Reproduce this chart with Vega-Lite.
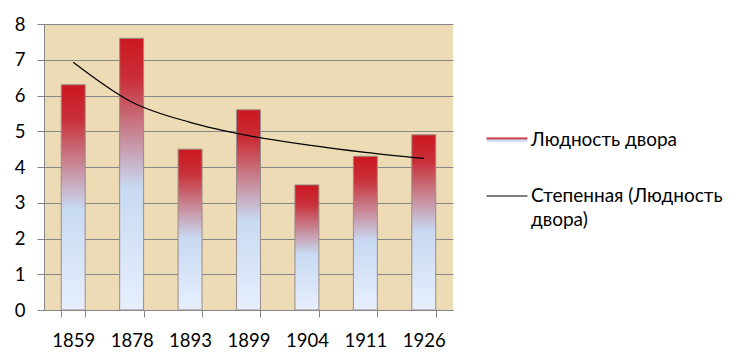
{
  "$schema": "https://vega.github.io/schema/vega-lite/v6.json",
  "width": 409,
  "height": 286,
  "autosize": "none",
  "padding": {"left": 44, "top": 24, "right": 290, "bottom": 54},
  "background": "white",
  "config": {
    "font": "Lato",
    "view": {"fill": "#eddbb5", "stroke": null},
    "axis": {"labelFont": "Lato", "labelFontSize": 18.5, "labelColor": "#000000", "domainColor": "#868686", "tickColor": "#868686", "gridColor": "#868686", "title": null},
    "legend": {"labelFont": "Lato", "labelFontSize": 19, "labelColor": "#000000", "padding": 0, "labelLimit": 400}
  },
  "datasets": {
    "bars": [
      {"year": "1859", "value": 6.3, "series": "Людность двора"},
      {"year": "1878", "value": 7.6, "series": "Людность двора"},
      {"year": "1893", "value": 4.5, "series": "Людность двора"},
      {"year": "1899", "value": 5.6, "series": "Людность двора"},
      {"year": "1904", "value": 3.5, "series": "Людность двора"},
      {"year": "1911", "value": 4.3, "series": "Людность двора"},
      {"year": "1926", "value": 4.9, "series": "Людность двора"}
    ],
    "trend": [
      {"year": "1859", "value": 6.93, "series": "Степенная (Людность двора)"},
      {"year": "1878", "value": 5.82, "series": "Степенная (Людность двора)"},
      {"year": "1893", "value": 5.25, "series": "Степенная (Людность двора)"},
      {"year": "1899", "value": 4.88, "series": "Степенная (Людность двора)"},
      {"year": "1904", "value": 4.62, "series": "Степенная (Людность двора)"},
      {"year": "1911", "value": 4.41, "series": "Степенная (Людность двора)"},
      {"year": "1926", "value": 4.24, "series": "Степенная (Людность двора)"}
    ]
  },
  "encoding": {
    "x": {
      "field": "year", "type": "nominal", "sort": null,
      "scale": {"paddingInner": 0.59, "paddingOuter": 0.295},
      "axis": {"labelAngle": 0, "tickBand": "extent", "tickSize": 7, "labelPadding": 14, "domainWidth": 1, "grid": false}
    },
    "y": {
      "field": "value", "type": "quantitative",
      "scale": {"domain": [0, 8], "nice": false},
      "axis": {"values": [0, 1, 2, 3, 4, 5, 6, 7, 8], "tickSize": 7, "labelPadding": 12, "grid": true, "domain": true}
    }
  },
  "layer": [
    {
      "data": {"name": "bars"},
      "mark": {"type": "bar", "stroke": "#9a8c88", "strokeWidth": 1,
        "fill": {"gradient": "linear", "x1": 0, "y1": 0, "x2": 0, "y2": 1, "stops": [
            {"offset": 0, "color": "#cc1820"},
            {"offset": 0.15, "color": "#c92f38"},
            {"offset": 0.3, "color": "#c8707c"},
            {"offset": 0.45, "color": "#c8b0c4"},
            {"offset": 0.55, "color": "#c8d9f2"},
            {"offset": 1, "color": "#e6effd"}
          ]}},
      "encoding": {
        "opacity": {
          "field": "series", "type": "nominal",
          "scale": {"range": [1]},
          "legend": {"orient": "none", "legendX": 442, "legendY": 95, "symbolType": "M-1,-0.12L1,-0.12L1,0.12L-1,0.12Z", "symbolSize": 1681, "symbolStrokeColor": "#9a8c88", "symbolStrokeWidth": 1, "labelOffset": 3, "title": null,
            "encode": {"symbols": {"update": {"fill": {"value": {"gradient": "linear", "x1": 0, "y1": 0, "x2": 0, "y2": 1, "stops": [
              {"offset": 0, "color": "#e0303c"},
              {"offset": 0.45, "color": "#f6f2f6"},
              {"offset": 1, "color": "#9fb0cc"}
            ]}}, "opacity": {"value": 1}}}}}
        }
      }
    },
    {
      "data": {"name": "trend"},
      "mark": {"type": "line", "interpolate": "monotone", "strokeWidth": 1.2},
      "encoding": {
        "stroke": {
          "field": "series", "type": "nominal",
          "scale": {"range": ["#000000"]},
          "legend": {"orient": "none", "legendX": 442, "legendY": 151, "symbolType": "stroke", "symbolSize": 1681, "symbolStrokeWidth": 1, "labelOffset": 3, "title": null,
            "labelExpr": "['Степенная (Людность', 'двора)']",
            "encode": {"labels": {"update": {"lineHeight": {"value": 24}}}}}
        }
      }
    }
  ],
  "resolve": {"scale": {"stroke": "independent"}}
}
